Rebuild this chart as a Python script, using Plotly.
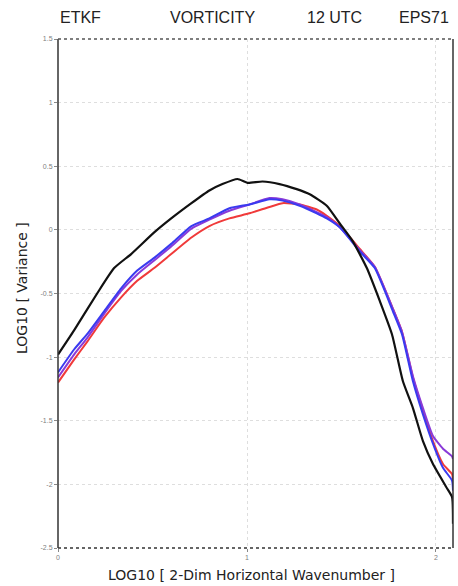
import plotly.graph_objects as go

# Spectra of vorticity variance vs horizontal wavenumber (log10 scales)
wn_black = [0, 0.085, 0.207, 0.297, 0.387, 0.509, 0.599, 0.706, 0.801, 0.870, 0.950,
            1.003, 1.082, 1.172, 1.263, 1.332, 1.422, 1.491, 1.560, 1.634, 1.703,
            1.767, 1.825, 1.878, 1.931, 1.984, 2.058, 2.085, 2.09]
var_black = [-0.98, -0.79, -0.50, -0.30, -0.19, -0.02, 0.09, 0.21, 0.31, 0.36, 0.40,
             0.37, 0.38, 0.36, 0.32, 0.28, 0.19, 0.05, -0.09, -0.30, -0.56,
             -0.82, -1.19, -1.40, -1.66, -1.84, -2.03, -2.10, -2.31]

wn_col = [0, 0.085, 0.154, 0.244, 0.334, 0.419, 0.509, 0.599, 0.706, 0.801, 0.907,
          1.013, 1.119, 1.188, 1.279, 1.369, 1.422, 1.491, 1.597, 1.676, 1.772,
          1.820, 1.878, 1.931, 1.984, 2.037, 2.085, 2.09]
var_blue = [-1.12, -0.94, -0.82, -0.64, -0.46, -0.32, -0.22, -0.11, 0.03, 0.09, 0.17,
            0.20, 0.24, 0.23, 0.19, 0.13, 0.09, 0.02, -0.17, -0.30, -0.64,
            -0.82, -1.19, -1.45, -1.68, -1.87, -1.97, -2.05]
var_purple = [-1.16, -0.98, -0.85, -0.66, -0.48, -0.35, -0.24, -0.13, 0.01, 0.08, 0.15,
              0.20, 0.25, 0.24, 0.20, 0.14, 0.10, 0.02, -0.16, -0.29, -0.62,
              -0.80, -1.15, -1.40, -1.62, -1.72, -1.78, -1.80]
var_red = [-1.20, -1.02, -0.88, -0.69, -0.53, -0.40, -0.30, -0.19, -0.06, 0.03, 0.09,
           0.13, 0.18, 0.21, 0.20, 0.16, 0.11, 0.03, -0.15, -0.29, -0.62,
           -0.80, -1.16, -1.42, -1.66, -1.84, -1.92, -1.98]

y_ticks = [-2.5, -2, -1.5, -1, -0.5, 0, 0.5, 1, 1.5]
y_tick_text = ["-2.5", "-2", "-1.5", "-1", "-0.5", "0", "0.5", "1", "1.5"]
x_ticks = [0, 1, 2]
x_tick_text = ["0", "1", "2"]
X_MAX = 2.09

fig = go.Figure()
series = [
    (var_red, "#f03a3a"),
    (var_purple, "#8a3ad8"),
    (var_blue, "#3a3af0"),
]
for vals, col in series:
    fig.add_trace(go.Scatter(x=wn_col, y=vals, mode="lines",
                             line=dict(color=col, width=2, shape="spline", smoothing=0.5),
                             hoverinfo="skip", showlegend=False))
fig.add_trace(go.Scatter(x=wn_black, y=var_black, mode="lines",
                         line=dict(color="#111111", width=2.2, shape="spline", smoothing=0.5),
                         hoverinfo="skip", showlegend=False))

axis_common = dict(showline=False, zeroline=False, showgrid=True,
                   gridcolor="#dedede", griddash="dot", gridwidth=1,
                   ticks="outside", ticklen=3, tickcolor="#888888",
                   tickfont=dict(family="Liberation Sans", size=7, color="#808080"))
fig.update_xaxes(range=[0, X_MAX], tickvals=x_ticks, ticktext=x_tick_text, **axis_common)
fig.update_yaxes(range=[-2.5, 1.5], tickvals=y_ticks, ticktext=y_tick_text, **axis_common)

# Frame: solid sides, dashed top and bottom
frame = "#333333"
fig.add_shape(type="line", xref="paper", yref="paper", x0=0, x1=0, y0=0, y1=1,
              line=dict(color=frame, width=1.5))
fig.add_shape(type="line", xref="paper", yref="paper", x0=1, x1=1, y0=0, y1=1,
              line=dict(color=frame, width=1.5))
fig.add_shape(type="line", xref="paper", yref="paper", x0=0, x1=1, y0=1, y1=1,
              line=dict(color="#555555", width=1.5, dash="dot"))
fig.add_shape(type="line", xref="paper", yref="paper", x0=0, x1=1, y0=0, y1=0,
              line=dict(color="#333333", width=1.5, dash="dot"))

head_font = dict(family="Liberation Sans", size=16, color="#222222")
for txt, xpix in [("ETKF", 58), ("VORTICITY", 168), ("12 UTC", 305), ("EPS71", 397)]:
    fig.add_annotation(text=txt, xref="paper", yref="paper",
                       x=(xpix - 58) / (453 - 58), y=1.0, yshift=11,
                       xanchor="left", yanchor="bottom", showarrow=False, font=head_font)

title_font = dict(family="DejaVu Sans", size=14, color="#222222")
fig.add_annotation(text="LOG10 [ 2-Dim Horizontal Wavenumber ]", xref="paper", yref="paper",
                   x=(251 - 58) / (453 - 58), y=0, yshift=-27, xanchor="center",
                   yanchor="middle", showarrow=False, font=title_font)
fig.add_annotation(text="LOG10 [ Variance ]", xref="paper", yref="paper",
                   x=0, xshift=-36, y=(548 - 288) / (548 - 39), xanchor="center",
                   yanchor="middle", textangle=-90, showarrow=False, font=title_font)

fig.update_layout(width=458, height=586,
                  margin=dict(l=58, r=5, t=39, b=38),
                  paper_bgcolor="white", plot_bgcolor="white")

fig.write_html("out.html")
